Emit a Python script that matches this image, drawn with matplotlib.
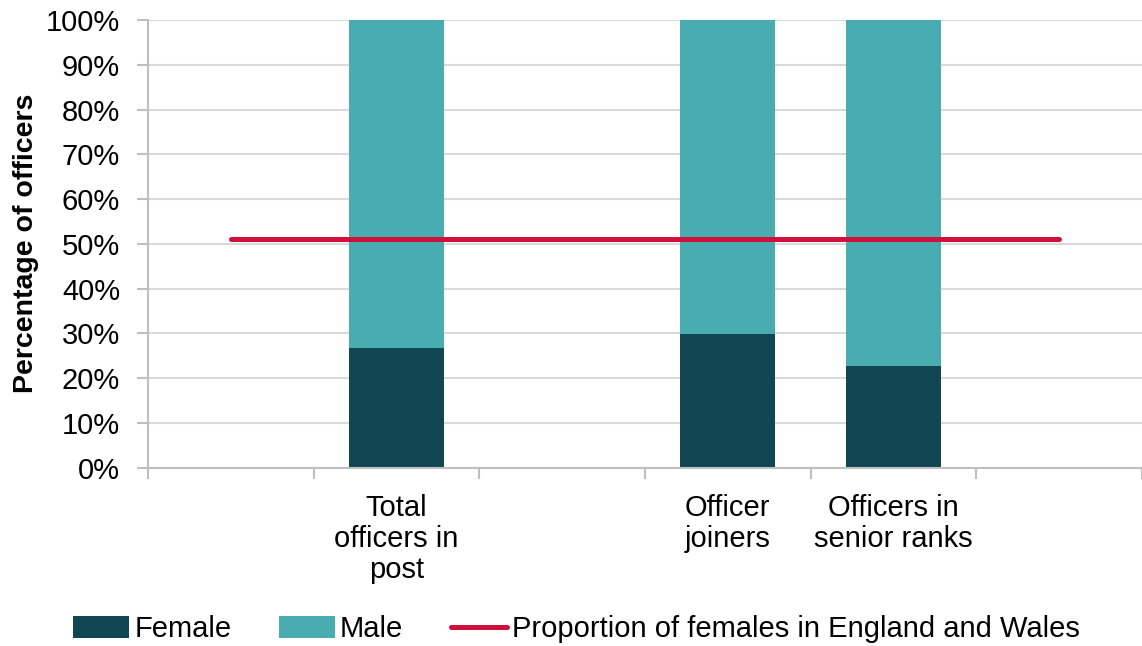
import numpy as np
import matplotlib
matplotlib.use("Agg")
import matplotlib.pyplot as plt
from matplotlib.ticker import FixedLocator, PercentFormatter

plt.rcParams.update({"font.family": ["Liberation Sans", "DejaVu Sans"],
                     "font.size": 21})

# ------------------------------------------------------------------ data
categories = ["", "Total\nofficers in\npost", "", "Officer\njoiners",
              "Officers in\nsenior ranks", ""]
female = [np.nan, 26.8, np.nan, 29.8, 22.7, np.nan]
male = [np.nan, 73.2, np.nan, 70.2, 77.3, np.nan]
pop_female = [51.0, 51.0, 51.0, 51.0, 51.0, 51.0]

C_FEMALE = "#104752"
C_MALE = "#48acb1"
C_LINE = "#d0103a"
C_AXIS = "#bfbfbf"
C_GRID = "#d9d9d9"

# ---------------------------------------------------------------- figure
fig = plt.figure(figsize=(11.42, 6.46), dpi=100)
ax = fig.add_axes([0.1296, 0.2763, 0.8704, 0.6927])

x = np.arange(len(categories))
w = 0.575
b1 = ax.bar(x, female, w, color=C_FEMALE, label="Female", zorder=2)
b2 = ax.bar(x, male, w, bottom=female, color=C_MALE, label="Male", zorder=2)
l1, = ax.plot(x, pop_female, color=C_LINE, lw=3.6, solid_capstyle="round",
              label="Proportion of females in England and Wales", zorder=3)

ax.set_xlim(-0.5, len(categories) - 0.5)
ax.set_ylim(0, 100)
ax.yaxis.set_major_locator(FixedLocator(np.arange(0, 101, 10)))
ax.yaxis.set_major_formatter(PercentFormatter(decimals=0))
ax.set_xticks(x)
ax.set_xticklabels(categories, linespacing=1.13)
ax.xaxis.set_minor_locator(FixedLocator(np.arange(-0.5, len(categories), 1.0)))
ax.tick_params(axis="x", which="major", length=0, pad=19)
ax.tick_params(axis="x", which="minor", length=8, width=1.5, color=C_AXIS)
ax.tick_params(axis="y", length=8, width=1.5, color=C_AXIS, pad=12)

ax.grid(axis="y", color=C_GRID, lw=1.5, zorder=0)
ax.set_axisbelow(True)
for s in ("top", "right"):
    ax.spines[s].set_visible(False)
for s in ("left", "bottom"):
    ax.spines[s].set_color(C_AXIS)
    ax.spines[s].set_linewidth(1.5)

ax.set_ylabel("Percentage of officers", fontweight="bold", fontsize=20.5,
              labelpad=5)

fig.legend(handles=[b1, b2, l1], loc="center",
           bbox_to_anchor=(0.505, 1 - 629 / 646), ncol=3,
           frameon=False, handlelength=1.9, handleheight=0.75,
           handletextpad=0.18, columnspacing=1.65, fontsize=21)

fig.savefig("out.png", dpi=100)
